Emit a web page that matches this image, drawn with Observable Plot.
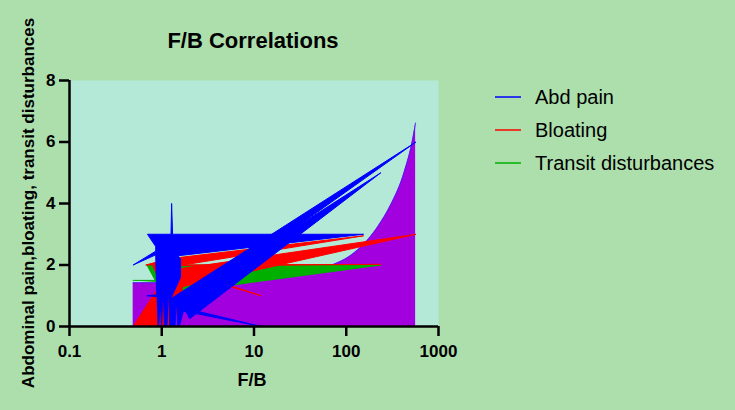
<!DOCTYPE html>
<html>
<head>
<meta charset="utf-8">
<script src="https://cdn.jsdelivr.net/npm/d3@7"></script>
<script src="https://cdn.jsdelivr.net/npm/@observablehq/plot@0.6"></script>
<style>
  html, body { margin: 0; padding: 0; background: #addfad; }
  #chart { width: 735px; height: 410px; }
</style>
</head>
<body>
<div id="chart"></div>
<script>
// ---- data ----
const xTicks = [0.1, 1, 10, 100, 1000];
const yTicks = [0, 2, 4, 6, 8];
const seriesNames = ["Abd pain", "Bloating", "Transit disturbances"];
const seriesColors = ["#0000ff", "#ff0000", "#00b000"];

// Abdominal pain (points in plotting order)
const abdFB    = [0.9, 0.93, 0.96, 0.99, 1.0, 1.03, 1.07, 1.14, 1.18, 1.22, 1.39, 1.44, 1.49, 1.55, 1.72, 12, 1.75, 2.0, 237, 1.45, 1.5, 570, 1.25, 1.6, 1.6, 1.5, 154, 1.31, 1.28, 1.26, 0.78, 0.7, 0.86, 0.86, 0.49, 0.86, 0.88, 0.69, 0.88];
const abdScore = [0, 0, 1.0, 0, 0, 1.5, 0, 0, 1.3, 0, 0, 0.9, 0, 0, 0.5, 0, 0.6, 0.25, 5, 0.75, 0.5, 6, 0.9, 1.6, 2.2, 2.3, 3, 3, 4, 3, 3, 3, 2.6, 2.45, 2, 2.33, 1.03, 1, 0.97];

// Bloating
const bloatFB    = [0.49, 0.93, 0.93, 0.8, 237, 0.67, 1.2, 1.6, 154, 1.7, 1.35, 570, 1.45, 1.75, 12, 1.7, 1.65, 1.3];
const bloatScore = [0, 1.3, 1.55, 1.97, 2.02, 2, 2.2, 2.25, 2.95, 2.0, 1.85, 3, 1.25, 1.82, 1, 1.75, 1.0, 0];

// Transit disturbances
const transitFB    = [0.49, 0.85, 0.69, 1.2, 237, 1.41, 1.0, 0.88];
const transitScore = [1.5, 1.5, 2, 2.0, 2, 1.1, 1.2, 1.45];

// Fitted curve (purple area)
const fitFB = [0.49, 1, 10, 30, 68, 112, 218, 303, 423, 522, 565];
const fitY  = [1.42, 1.42, 1.5, 1.66, 1.98, 2.31, 3.23, 3.95, 5.0, 6.05, 6.62];

// ---- tables built from the arrays ----
const toRows = (xs, ys) => xs.map((x, i) => ({x, y: ys[i]}));
const abd = toRows(abdFB, abdScore);
const bloat = toRows(bloatFB, bloatScore);
const transit = toRows(transitFB, transitScore);
const fit = toRows(fitFB, fitY);

const font = "'Liberation Sans', Arial, Helvetica, sans-serif";

const chart = Plot.plot({
  width: 735,
  height: 410,
  marginLeft: 69,
  marginRight: 297,
  marginTop: 80,
  marginBottom: 84,
  style: {background: "transparent", fontFamily: font, color: "black"},
  x: {type: "log", domain: [0.1, 1000]},
  y: {domain: [0, 8]},
  marks: [
    Plot.frame({fill: "#b4e9d7", stroke: "none"}),
    Plot.areaY(fit, {x: "x", y: "y", fill: "#a300df", curve: "monotone-x"}),
    Plot.line(fit, {x: "x", y: "y", stroke: "#3a22ff", strokeWidth: 0.8, curve: "monotone-x"}),
    Plot.line(transit, {x: "x", y: "y", fill: seriesColors[2], stroke: seriesColors[2], strokeWidth: 1}),
    Plot.line(bloat, {x: "x", y: "y", fill: seriesColors[1], stroke: seriesColors[1], strokeWidth: 1}),
    Plot.line(abd, {x: "x", y: "y", fill: seriesColors[0], stroke: seriesColors[0], strokeWidth: 1}),
    Plot.ruleY([0], {stroke: "black", strokeWidth: 2.5}),
    Plot.ruleX([0.1], {stroke: "black", strokeWidth: 2.5}),
    Plot.axisX({ticks: xTicks, tickFormat: d => String(d), tickSize: 10, tickPadding: 8,
      fontSize: 17, fontWeight: "bold", stroke: "black", fill: "black", strokeWidth: 2.5, label: null}),
    Plot.axisY({ticks: yTicks, tickFormat: d => String(d), tickSize: 10, tickPadding: 4,
      fontSize: 17, fontWeight: "bold", stroke: "black", fill: "black", strokeWidth: 2.5, label: null})
  ]
});

document.getElementById("chart").appendChild(chart);

// ---- title, axis titles, legend ----
const svg = d3.select(chart);
svg.append("text")
  .attr("x", 253).attr("y", 48)
  .attr("text-anchor", "middle")
  .style("font", `bold 22px ${font}`)
  .attr("fill", "black")
  .text("F/B Correlations");

svg.append("text")
  .attr("x", 252).attr("y", 386)
  .attr("text-anchor", "middle")
  .style("font", `bold 18px ${font}`)
  .attr("fill", "black")
  .text("F/B");

svg.append("text")
  .attr("transform", "translate(33.5,203) rotate(-90)")
  .attr("text-anchor", "middle")
  .style("font", `bold 17px ${font}`)
  .attr("fill", "black")
  .text("Abdominal pain,bloating, transit disturbances");

const leg = svg.append("g").attr("text-anchor", "start");
seriesNames.forEach((name, i) => {
  const y = 97 + i * 33;
  leg.append("line")
    .attr("x1", 495).attr("x2", 521).attr("y1", y).attr("y2", y)
    .attr("stroke", seriesColors[i]).attr("stroke-width", 1.5);
  leg.append("text")
    .attr("x", 535).attr("y", y + 7)
    .attr("text-anchor", "start")
    .style("font", `20px ${font}`)
    .attr("fill", "black")
    .text(name);
});
</script>
</body>
</html>
